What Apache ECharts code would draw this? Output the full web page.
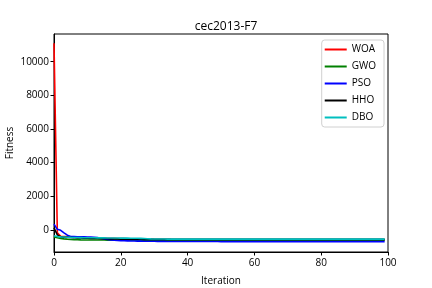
<!DOCTYPE html>
<html>
<head>
<meta charset="utf-8">
<script src="https://cdn.jsdelivr.net/npm/echarts@6/dist/echarts.min.js"></script>
<style>html,body{margin:0;padding:0;background:#fff}#c{width:432px;height:288px}</style>
</head>
<body>
<div id="c"></div>
<script>
const iterations = [0,1,2,3,4,5,6,7,8,9,10,11,12,13,14,15,16,17,18,19,20,21,22,23,24,25,26,27,28,29,30,31,32,33,34,35,36,37,38,39,40,41,42,43,44,45,46,47,48,49,50,51,52,53,54,55,56,57,58,59,60,61,62,63,64,65,66,67,68,69,70,71,72,73,74,75,76,77,78,79,80,81,82,83,84,85,86,87,88,89,90,91,92,93,94,95,96,97,98,99];
const seriesNames = ['WOA','GWO','PSO','HHO','DBO'];
const woa = [11100,-180,-390,-400,-405,-410,-415,-420,-440,-460,
-470,-475,-480,-485,-490,-495,-500,-505,-510,-515,
-520,-525,-530,-535,-540,-545,-550,-555,-560,-565,
-570,-573,-576,-579,-582,-585,-587,-589,-591,-593,
-595,-596,-597,-598,-599,-600,-600,-600,-600,-600,
-600,-600,-600,-600,-600,-600,-600,-600,-600,-600,
-600,-600,-600,-600,-600,-600,-600,-600,-600,-600,
-600,-600,-600,-600,-600,-600,-600,-600,-600,-600,
-600,-600,-600,-600,-600,-600,-600,-600,-600,-600,
-600,-600,-600,-600,-600,-600,-600,-600,-600,-600];
const gwo = [-420,-470,-510,-540,-560,-575,-585,-592,-598,-602,
-605,-606,-607,-608,-609,-610,-611,-612,-613,-614,
-615,-615,-615,-615,-615,-615,-615,-615,-615,-615,
-615,-615,-615,-615,-615,-615,-615,-615,-615,-615,
-615,-615,-615,-615,-615,-615,-615,-615,-615,-615,
-615,-615,-615,-615,-615,-615,-615,-615,-615,-615,
-615,-615,-615,-615,-615,-615,-615,-615,-615,-615,
-615,-615,-615,-615,-615,-615,-615,-615,-615,-615,
-615,-615,-615,-615,-615,-615,-615,-615,-615,-615,
-615,-615,-615,-615,-615,-615,-615,-615,-615,-615];
const pso = [340,30,-30,-180,-320,-400,-405,-410,-415,-420,
-425,-430,-440,-460,-500,-540,-570,-600,-620,-635,
-650,-655,-660,-665,-670,-672,-675,-678,-680,-682,
-684,-686,-688,-690,-692,-693,-694,-695,-696,-697,
-698,-698,-698,-698,-698,-698,-698,-698,-698,-698,
-700,-700,-700,-700,-700,-700,-700,-700,-700,-700,
-700,-700,-700,-700,-700,-700,-700,-700,-700,-700,
-700,-700,-700,-700,-700,-700,-700,-700,-700,-700,
-700,-700,-700,-700,-700,-700,-700,-700,-700,-700,
-700,-700,-700,-700,-700,-700,-700,-700,-700,-700];
const hho = [120,-300,-420,-440,-450,-460,-470,-480,-490,-500,
-505,-510,-515,-520,-525,-530,-535,-540,-545,-550,
-552,-554,-556,-558,-560,-562,-564,-566,-568,-570,
-570,-570,-570,-570,-570,-570,-570,-570,-570,-570,
-570,-570,-570,-570,-570,-570,-570,-570,-570,-570,
-570,-570,-570,-570,-570,-570,-570,-570,-570,-570,
-570,-570,-570,-570,-570,-570,-570,-570,-570,-570,
-570,-570,-570,-570,-570,-570,-570,-570,-570,-570,
-570,-570,-570,-570,-570,-570,-570,-570,-570,-570,
-570,-570,-570,-570,-570,-570,-570,-570,-570,-570];
const dbo = [-350,-400,-420,-430,-440,-450,-455,-460,-465,-470,
-472,-474,-476,-478,-480,-482,-484,-486,-488,-490,
-492,-494,-496,-498,-500,-505,-510,-520,-530,-540,
-545,-548,-550,-551,-552,-553,-554,-555,-555,-555,
-555,-555,-555,-555,-555,-555,-555,-555,-555,-555,
-555,-555,-555,-555,-555,-555,-555,-555,-555,-555,
-555,-555,-555,-555,-555,-555,-555,-555,-555,-555,
-555,-555,-555,-555,-555,-555,-555,-555,-555,-555,
-555,-555,-555,-555,-555,-555,-555,-555,-555,-555,
-555,-555,-555,-555,-555,-555,-555,-555,-555,-555];
const yTicks = [0,2000,4000,6000,8000,10000];
const xTicks = [0,20,40,60,80,100];

const colors = ['#ff0000','#008000','#0000ff','#000000','#00bfbf'];
const allData = [woa,gwo,pso,hho,dbo];
const FONT = 'Open Sans';

const chart = echarts.init(document.getElementById('c'), null, {renderer:'canvas'});
chart.setOption({
  animation:false,
  backgroundColor:'#fff',
  title:{text:'cec2013-F7', left:221, top:16, textAlign:'center',
    textStyle:{fontFamily:FONT,fontSize:12,fontWeight:'normal',color:'#000'}},
  grid:{left:54,right:44,top:34,bottom:36,show:true,borderColor:'#000',borderWidth:1,
    containLabel:false, outerBoundsMode:'none'},
  legend:{
    orient:'vertical', right:48, top:40,
    data:seriesNames, icon:'rect', itemWidth:22, itemHeight:2, itemGap:4,
    padding:[3,8,3,3], borderColor:'#d0d0d0', borderWidth:1, borderRadius:3,
    backgroundColor:'#fff',
    textStyle:{fontFamily:FONT,fontSize:10,color:'#000',lineHeight:13}
  },
  xAxis:{
    type:'value', min:0, max:100, interval:20,
    name:'Iteration', nameLocation:'middle', nameGap:24, nameMoveOverlap:false,
    nameTextStyle:{fontFamily:FONT,fontSize:10,color:'#000'},
    axisLine:{show:true,onZero:false,lineStyle:{color:'#000',width:1}},
    axisTick:{show:true,inside:false,length:3.5,lineStyle:{color:'#000'}},
    axisLabel:{fontFamily:FONT,fontSize:10,color:'#000',margin:6,formatter:v=>String(v)},
    splitLine:{show:false}
  },
  yAxis:{
    type:'value', min:-1320, max:11650,
    name:'Fitness', nameLocation:'middle', nameGap:39, nameMoveOverlap:false,
    nameTextStyle:{fontFamily:FONT,fontSize:10,color:'#000'},
    axisLine:{show:true,onZero:false,lineStyle:{color:'#000',width:1}},
    axisTick:{show:true,inside:false,length:3.5,lineStyle:{color:'#000'},customValues:yTicks},
    axisLabel:{fontFamily:FONT,fontSize:10,color:'#000',margin:5,customValues:yTicks,formatter:v=>String(v)},
    splitLine:{show:false}
  },
  series: seriesNames.map((n,k)=>({
    name:n, type:'line', showSymbol:false, symbol:'none',
    data: iterations.map((it,i)=>[it, allData[k][i]]),
    lineStyle:{color:colors[k],width:1.6},
    itemStyle:{color:colors[k]},
    z:2+k
  }))
});
</script>
</body>
</html>
